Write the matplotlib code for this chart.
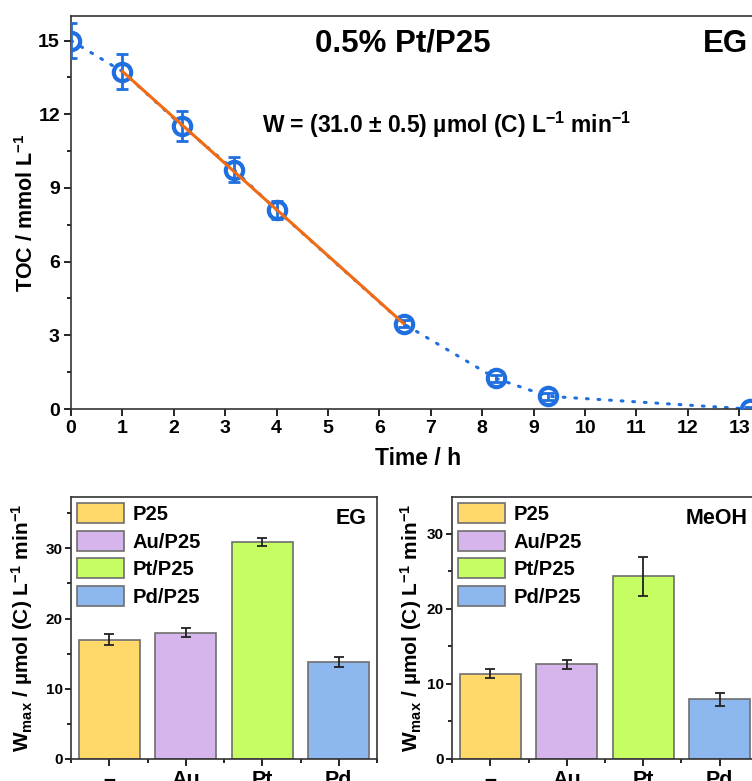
import numpy as np
import matplotlib
matplotlib.use("Agg")
import matplotlib.pyplot as plt
from matplotlib.ticker import MultipleLocator, FixedLocator

plt.rcParams['font.family'] = ['Liberation Sans', 'DejaVu Sans']
plt.rcParams['font.weight'] = 'bold'
plt.rcParams['axes.labelweight'] = 'bold'
plt.rcParams['mathtext.fontset'] = 'custom'
plt.rcParams['mathtext.rm'] = 'Liberation Sans:bold'
plt.rcParams['mathtext.bf'] = 'Liberation Sans:bold'
plt.rcParams['mathtext.default'] = 'bf'
plt.rcParams['axes.linewidth'] = 1.2
plt.rcParams['axes.edgecolor'] = '#333333'

# TOC decay, 0.5% Pt/P25 in EG
time_h = [0, 1.0, 2.16, 3.17, 4.0, 6.47, 8.26, 9.27, 13.2]
toc = [15.0, 13.74, 11.53, 9.74, 8.1, 3.47, 1.25, 0.52, 0.0]
toc_err = [0.72, 0.7, 0.6, 0.5, 0.38, 0.15, 0.15, 0.15, 0.1]
fit_idx = [1, 2, 3, 4, 5]

# W_max bars
catalysts = ['\u2013', 'Au', 'Pt', 'Pd']
legend_labels = ['P25', 'Au/P25', 'Pt/P25', 'Pd/P25']
w_eg = [17.0, 18.0, 30.9, 13.8]
w_eg_err = [0.8, 0.6, 0.55, 0.65]
w_meoh = [11.3, 12.6, 24.3, 7.9]
w_meoh_err = [0.6, 0.6, 2.6, 0.85]

bar_colors = ['#ffd86a', '#d5b5eb', '#c5fd63', '#8cb8ef']
blue = '#1f6fe0'
orange = '#f26a12'

W, H = 752, 781
fig = plt.figure(figsize=(W / 100, H / 100), dpi=100)

# ---- top panel
ax = fig.add_axes([71/W, 372/H, 694/W, 393/H])
t = np.array(time_h)
c = np.array(toc)
ax.plot(t, c, color=blue, lw=2.2, linestyle=(0, (0.6, 3.2)), dash_capstyle='round', zorder=2)
ax.errorbar(t, c, yerr=toc_err, fmt='none', ecolor=blue, elinewidth=2, capsize=4, capthick=2, zorder=3)
ax.plot(t, c, 'o', ms=12.5, mfc='none', mec=blue, mew=3, zorder=4)
p = np.polyfit(t[fit_idx], c[fit_idx], 1)
xf = np.array([t[fit_idx[0]], t[fit_idx[-1]]])
ax.plot(xf, np.polyval(p, xf), color=orange, lw=2.2, zorder=5)

ax.set_xlim(0, 13.5)
ax.set_ylim(0, 16)
ax.xaxis.set_major_locator(MultipleLocator(1))
ax.yaxis.set_major_locator(FixedLocator([0, 3, 6, 9, 12, 15]))
ax.yaxis.set_minor_locator(FixedLocator([1.5, 4.5, 7.5, 10.5, 13.5]))
ax.tick_params(axis='both', which='major', labelsize=14, length=5, width=1.2, pad=3)
ax.tick_params(axis='y', which='minor', length=3, width=1.2)
for lab in ax.get_xticklabels() + ax.get_yticklabels():
    lab.set_fontweight('bold')
ax.spines['right'].set_visible(False)
ax.set_xlabel('Time / h', fontsize=16.5, labelpad=7)
ax.set_ylabel('TOC / mmol L$^{-1}$', fontsize=15.5)
ax.yaxis.set_label_coords(-0.047, 0.5)

fig.text(403/W, 1 - 43/H, '0.5% Pt/P25', fontsize=22.5, ha='center', va='center')
fig.text(748/W, 1 - 44/H, 'EG', fontsize=22.5, ha='right', va='center')
fig.text(447/W, 1 - 125/H, 'W = (31.0 \u00b1 0.5) \u00b5mol (C) L$^{-1}$ min$^{-1}$',
         fontsize=16.5, ha='center', va='center')


def bar_panel(ax, vals, errs, name, ytop, label_x):
    x = np.arange(1, len(vals) + 1)
    bars = ax.bar(x, vals, width=0.8, color=bar_colors, edgecolor='#6e6e6e', linewidth=1.2, zorder=2)
    ax.errorbar(x, vals, yerr=errs, fmt='none', ecolor='#222222', elinewidth=1.3,
                capsize=3.5, capthick=1.3, zorder=3)
    ax.set_xlim(0.5, 4.5)
    ax.set_ylim(0, ytop)
    ax.set_xticks(x)
    ax.set_xticklabels(catalysts, fontweight='bold')
    ax.xaxis.set_minor_locator(FixedLocator([0.5, 1.5, 2.5, 3.5, 4.5]))
    ax.yaxis.set_major_locator(MultipleLocator(10))
    ax.yaxis.set_minor_locator(MultipleLocator(5))
    ax.tick_params(axis='x', which='major', labelsize=15.5, length=5, width=1.2, pad=3)
    ax.tick_params(axis='y', which='major', labelsize=11, length=4, width=1.2, pad=2)
    ax.tick_params(which='minor', length=3, width=1.2)
    for lab in ax.get_yticklabels():
        lab.set_fontweight('bold')
    ax.set_ylabel('W$_{max}$ / \u00b5mol (C) L$^{-1}$ min$^{-1}$', fontsize=15)
    ax.yaxis.set_label_coords(label_x, 0.5)
    ax.legend(bars, legend_labels, loc='upper left', frameon=False, fontsize=14.5,
              handlelength=2.35, handleheight=1.15, labelspacing=0.33, handletextpad=0.4,
              borderaxespad=0.2, borderpad=0.1)
    ax.text(0.965, 0.92, name, transform=ax.transAxes, fontsize=15.5, ha='right', va='center')


ax1 = fig.add_axes([71/W, 22.3/H, 306/W, 261.4/H])
bar_panel(ax1, w_eg, w_eg_err, 'EG', 37.3, -0.118)

ax2 = fig.add_axes([452/W, 22.3/H, 306/W, 261.4/H])
bar_panel(ax2, w_meoh, w_meoh_err, 'MeOH', 34.85, -0.092)

plt.savefig('out.png', dpi=100)
